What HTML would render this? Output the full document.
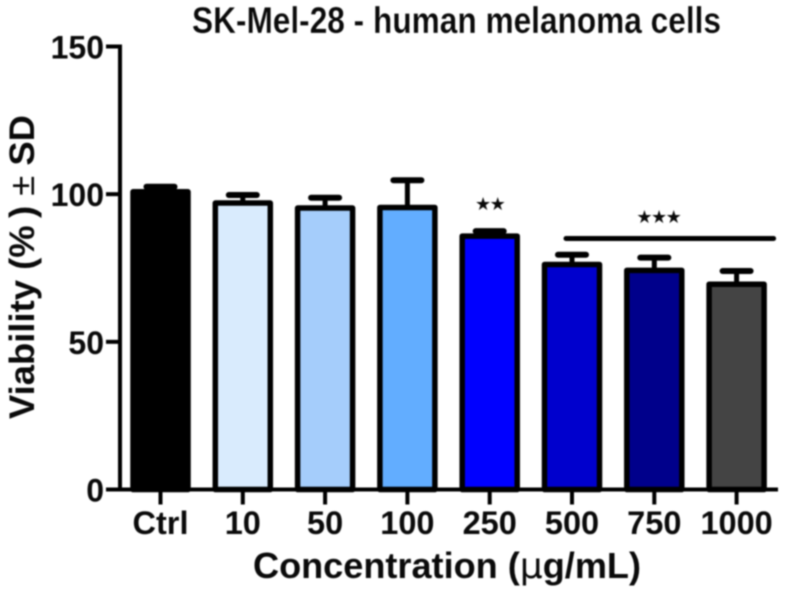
<!DOCTYPE html>
<html>
<head>
<meta charset="utf-8">
<style>
html,body{margin:0;padding:0;background:#fff;width:787px;height:590px;overflow:hidden}
svg{display:block}
text{font-family:"Liberation Sans",sans-serif;fill:#0a0a0a}
</style>
</head>
<body>
<svg id="chart" width="787" height="590" viewBox="0 0 787 590">
  <g style="filter:blur(0.7px)">
    <text x="192" y="33" font-size="37" font-weight="700" textLength="529" lengthAdjust="spacingAndGlyphs" stroke="#fff" stroke-width="0.25">SK-Mel-28 - human melanoma cells</text>
    <g id="bars"></g>
    <g id="axes"></g>
    <text x="447" y="578" text-anchor="middle" font-size="36" font-weight="700" textLength="388" lengthAdjust="spacingAndGlyphs">Concentration (<tspan font-family="'DejaVu Sans',sans-serif" font-weight="400">µ</tspan>g/mL)</text>
    <text transform="translate(34,267) rotate(-90)" text-anchor="middle" font-size="35" font-weight="700" textLength="304" lengthAdjust="spacingAndGlyphs">Viability (%&#8201;) <tspan font-weight="400">±</tspan> SD</text>
    <g id="annotations"></g>
  </g>
</svg>
<script>
const categories = ['Ctrl', '10', '50', '100', '250', '500', '750', '1000'];
const means = [100.8, 97, 95.3, 95.5, 85.8, 76.2, 74.2, 69.5];
const errorTops = [102.5, 99.7, 98.8, 104.7, 87.5, 79.5, 78.5, 74];
const barColors = ['#000000', '#d9ebfd', '#a5cdfb', '#62adff', '#0000ff', '#0000cd', '#00008b', '#444444'];
const yTicks = [0, 50, 100, 150];
const sigBarStart = 5;
const sigBarEnd = 7;
const sigBarValue = 85;

const NS = 'http://www.w3.org/2000/svg';
const yScale = v => 489.5 - v * (443 / 150);
const xScale = i => 160.5 + i * 82.3;

function make(tag, attrs, parent, text) {
  const el = document.createElementNS(NS, tag);
  for (const k in attrs) el.setAttribute(k, attrs[k]);
  if (text !== undefined) el.textContent = text;
  parent.appendChild(el);
  return el;
}

const barsG = document.getElementById('bars');
const axesG = document.getElementById('axes');
const annG = document.getElementById('annotations');

categories.forEach((c, i) => {
  const x = xScale(i);
  const top = yScale(means[i]);
  const errTop = yScale(errorTops[i]);

  const stem = make('line', {x1: x, x2: x, y1: top, y2: errTop, stroke: '#000', 'stroke-width': 5}, barsG);
  
  

  const cap = make('line', {x1: x - 14, x2: x + 14, y1: errTop, y2: errTop, stroke: '#000', 'stroke-width': 6, 'stroke-linecap': 'round'}, barsG);
  
  

  const bar = make('rect', {x: x - 27.5, y: top, width: 55, height: yScale(0) - top, fill: barColors[i], stroke: '#000', 'stroke-width': 5.5, 'stroke-linejoin': 'round'}, barsG);
  
  

  const tick = make('line', {x1: x, x2: x, y1: yScale(0), y2: yScale(0) + 15, stroke: '#000', 'stroke-width': 4}, axesG);
  
  

  const label = make('text', {x: x, y: 534, 'text-anchor': 'middle', 'font-size': 32.5, 'font-weight': 700}, axesG, c);
  
  
});

const yAxis = make('line', {x1: 120, x2: 120, y1: yScale(150) - 2, y2: yScale(0), stroke: '#000', 'stroke-width': 4}, axesG);



const xAxis = make('line', {x1: 106, x2: 778, y1: yScale(0), y2: yScale(0), stroke: '#000', 'stroke-width': 4}, axesG);



yTicks.forEach(t => {
  const y = yScale(t);
  const tick = make('line', {x1: 106, x2: 120, y1: y, y2: y, stroke: '#000', 'stroke-width': 4}, axesG);
  
  

  const label = make('text', {x: 104, y: y + 12, 'text-anchor': 'end', 'font-size': 32, 'font-weight': 700}, axesG, String(t));
  
  
});

const sig2 = make('text', {x: xScale(4), y: 210, 'text-anchor': 'middle', 'font-size': 18, 'letter-spacing': -1.5, 'font-family': 'DejaVu Sans, sans-serif', fill: '#222'}, annG, '★★');



const sig3 = make('text', {x: xScale(6) + 4, y: 223, 'text-anchor': 'middle', 'font-size': 18, 'letter-spacing': -1.5, 'font-family': 'DejaVu Sans, sans-serif', fill: '#222'}, annG, '★★★');



const sigLine = make('line', {x1: xScale(sigBarStart) - 6, x2: xScale(sigBarEnd) + 37, y1: yScale(sigBarValue), y2: yScale(sigBarValue), stroke: '#000', 'stroke-width': 5, 'stroke-linecap': 'round'}, annG);


</script>
</body>
</html>
